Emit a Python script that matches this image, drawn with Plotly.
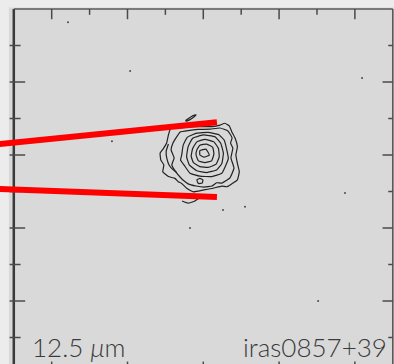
import plotly.graph_objects as go

# ---- field of view (arcsec offsets) ----
X_RANGE = [-5.364, 5.032]
Y_RANGE = [-4.726, 5.247]
FRAME = 5.0

# tick positions (arcsec)
X_MAJOR = [-4, -2, 0, 2, 4]
X_MINOR = [-3, -1, 1, 3]
Y_MAJOR = [-3, -1, 1, 3]
Y_MINOR = [-4, -2, 0, 2, 4]

# slit edges (arcsec): start and end points
SLIT_UPPER = [(-5.5, 1.29), (0.36, 1.90)]
SLIT_LOWER = [(-5.5, 0.075), (0.36, -0.15)]

# 12.5 micron contour levels, innermost first (arcsec)
CONTOUR_1 = [(-0.09, 1.12), (0.07, 1.16), (0.16, 1.00), (0.02, 0.94), (-0.09, 1.00)]
CONTOUR_2 = [(-0.17, 1.14), (-0.09, 1.27), (0.09, 1.30), (0.25, 1.21), (0.28, 1.03),
             (0.22, 0.84), (0.04, 0.79), (-0.13, 0.84), (-0.19, 1.00)]
CONTOUR_3 = [(-0.28, 1.18), (-0.17, 1.36), (0.04, 1.43), (0.28, 1.36), (0.40, 1.18),
             (0.42, 0.95), (0.34, 0.75), (0.13, 0.66), (-0.09, 0.68), (-0.26, 0.79),
             (-0.32, 0.97)]
CONTOUR_4 = [(-0.40, 1.23), (-0.28, 1.46), (0.00, 1.55), (0.31, 1.50), (0.46, 1.32),
             (0.53, 1.05), (0.49, 0.77), (0.35, 0.59), (0.09, 0.52), (-0.17, 0.57),
             (-0.37, 0.73), (-0.44, 0.95)]
CONTOUR_5 = [(-0.53, 1.27), (-0.42, 1.49), (-0.17, 1.60), (0.13, 1.62), (0.40, 1.56),
             (0.55, 1.41), (0.63, 1.09), (0.66, 0.90), (0.60, 0.73), (0.49, 0.50),
             (0.22, 0.41), (-0.09, 0.42), (-0.35, 0.50), (-0.51, 0.73), (-0.60, 0.86),
             (-0.57, 1.00)]
CONTOUR_6 = [(-0.72, 1.47), (-0.61, 1.63), (-0.40, 1.67), (-0.14, 1.70), (0.18, 1.71),
             (0.44, 1.74), (0.65, 1.66), (0.76, 1.47), (0.72, 1.33), (0.78, 1.19),
             (0.73, 0.92), (0.81, 0.64), (0.70, 0.37), (0.49, 0.23), (0.35, 0.24),
             (0.23, 0.15), (0.02, 0.12), (-0.19, 0.15), (-0.40, 0.21), (-0.52, 0.30),
             (-0.59, 0.37), (-0.72, 0.53), (-0.83, 0.73), (-0.77, 0.92), (-0.85, 1.14),
             (-0.80, 1.33)]
CONTOUR_7 = [(-0.86, 1.73), (-0.92, 1.55), (-0.97, 1.32), (-1.05, 1.18), (-1.14, 1.05),
             (-1.12, 0.86), (-1.04, 0.73), (-1.07, 0.54), (-0.92, 0.41), (-0.75, 0.36),
             (-0.66, 0.27), (-0.57, 0.22), (-0.44, 0.09), (-0.26, -0.01), (0.00, 0.04),
             (0.26, 0.09), (0.49, 0.15), (0.62, 0.13), (0.75, 0.21), (0.90, 0.32),
             (0.95, 0.54), (0.90, 0.77), (0.86, 1.00), (0.90, 1.23), (0.84, 1.46),
             (0.75, 1.64), (0.69, 1.79), (0.57, 1.87), (0.44, 1.82), (0.23, 1.78),
             (-0.09, 1.78), (-0.35, 1.77), (-0.57, 1.75), (-0.75, 1.77)]
LOBE_WEST = [(-0.92, 1.30), (-0.98, 1.10), (-0.96, 0.90), (-0.90, 0.72), (-0.80, 0.60),
             (-0.70, 0.52)]
CLUMP_NORTH = [(-0.46, 1.95), (-0.38, 2.01), (-0.27, 2.08), (-0.19, 2.10), (-0.25, 2.04),
               (-0.35, 1.97), (-0.46, 1.93)]
CLUMP_SOUTH = [(-0.17, 0.32), (-0.09, 0.36), (-0.01, 0.32), (-0.03, 0.23), (-0.13, 0.22)]
ARC_SOUTH = [(-0.56, -0.26), (-0.40, -0.32), (-0.22, -0.26), (-0.11, -0.18)]

# isolated noise peaks (arcsec)
NOISE_X = [-3.57, -1.93, 4.19, -2.41, 3.74, 3.03, 0.52, 1.10, -0.35]
NOISE_Y = [4.64, 3.30, 3.11, 1.38, -0.04, -3.00, -0.51, -0.42, -1.00]

FILTER_LABEL = "12.5 <i>μ</i>m"
SOURCE_LABEL = "iras0857+39"

fig = go.Figure()

contour_line = dict(color="#222222", width=1.2, shape="spline", smoothing=0.35)
closed = [CONTOUR_1, CONTOUR_2, CONTOUR_3, CONTOUR_4, CONTOUR_5, CONTOUR_6,
          CONTOUR_7, CLUMP_NORTH, CLUMP_SOUTH]
for pts in closed:
    ring = pts + [pts[0]]
    fig.add_trace(go.Scatter(
        x=[p[0] for p in ring], y=[p[1] for p in ring], mode="lines",
        line=contour_line, hoverinfo="skip", showlegend=False))
for pts in (ARC_SOUTH, LOBE_WEST):
    fig.add_trace(go.Scatter(
        x=[p[0] for p in pts], y=[p[1] for p in pts], mode="lines",
        line=contour_line, hoverinfo="skip", showlegend=False))

fig.add_trace(go.Scatter(
    x=NOISE_X, y=NOISE_Y, mode="markers",
    marker=dict(color="#4a4a4a", size=2, line=dict(width=0)),
    hoverinfo="skip", showlegend=False))

for slit in (SLIT_UPPER, SLIT_LOWER):
    fig.add_trace(go.Scatter(
        x=[p[0] for p in slit], y=[p[1] for p in slit], mode="lines",
        line=dict(color="#ff0000", width=6),
        hoverinfo="skip", showlegend=False))

shapes = []
# image area
shapes.append(dict(type="rect", x0=-5.13, x1=5.2, y0=-5.2, y1=5.04,
                   line=dict(width=0), fillcolor="#d9d9d9", layer="below"))
# frame
edge = "#4a4a4a"
shapes.append(dict(type="line", x0=-FRAME, x1=-FRAME, y0=-FRAME, y1=FRAME,
                   line=dict(color="#3a3a3a", width=2.5), layer="below"))
shapes.append(dict(type="line", x0=-FRAME, x1=FRAME, y0=FRAME, y1=FRAME,
                   line=dict(color="#5a5a5a", width=1.6), layer="below"))
shapes.append(dict(type="line", x0=FRAME, x1=FRAME, y0=-FRAME, y1=FRAME,
                   line=dict(color="#5a5a5a", width=1.6), layer="below"))
shapes.append(dict(type="line", x0=-FRAME, x1=FRAME, y0=-FRAME, y1=-FRAME,
                   line=dict(color="#5a5a5a", width=1.6), layer="below"))


def tick(x0, y0, x1, y1):
    return dict(type="line", x0=x0, y0=y0, x1=x1, y1=y1,
                line=dict(color=edge, width=1.5), layer="below")


for v in X_MAJOR:
    shapes.append(tick(v, FRAME, v, FRAME - 0.28))
    shapes.append(tick(v, -FRAME, v, -FRAME + 0.34))
for v in X_MINOR:
    shapes.append(tick(v, FRAME, v, FRAME - 0.16))
    shapes.append(tick(v, -FRAME, v, -FRAME + 0.16))
for v in Y_MAJOR:
    shapes.append(tick(-FRAME - 0.11, v, -FRAME + 0.30, v))
    shapes.append(tick(FRAME - 0.27, v, FRAME, v))
for v in Y_MINOR:
    shapes.append(tick(-FRAME - 0.11, v, -FRAME + 0.18, v))
    shapes.append(tick(FRAME - 0.12, v, FRAME, v))

font = dict(family="Lato, 'DejaVu Sans', sans-serif", size=26, color="#3a3a3a", weight=300)
annotations = [
    dict(x=-4.58, y=-4.25, xref="x", yref="y", text=FILTER_LABEL, showarrow=False,
         xanchor="left", yanchor="middle", font=font),
    dict(x=4.90, y=-4.25, xref="x", yref="y", text=SOURCE_LABEL, showarrow=False,
         xanchor="right", yanchor="middle", font=font),
]

fig.update_layout(
    width=394, height=364, autosize=False,
    margin=dict(l=0, r=0, t=0, b=0, pad=0),
    paper_bgcolor="#ececec", plot_bgcolor="#ececec",
    xaxis=dict(range=X_RANGE, visible=False, fixedrange=True),
    yaxis=dict(range=Y_RANGE, visible=False, fixedrange=True),
    shapes=shapes, annotations=annotations,
)

fig.write_html("out.html", config={"displayModeBar": False})
